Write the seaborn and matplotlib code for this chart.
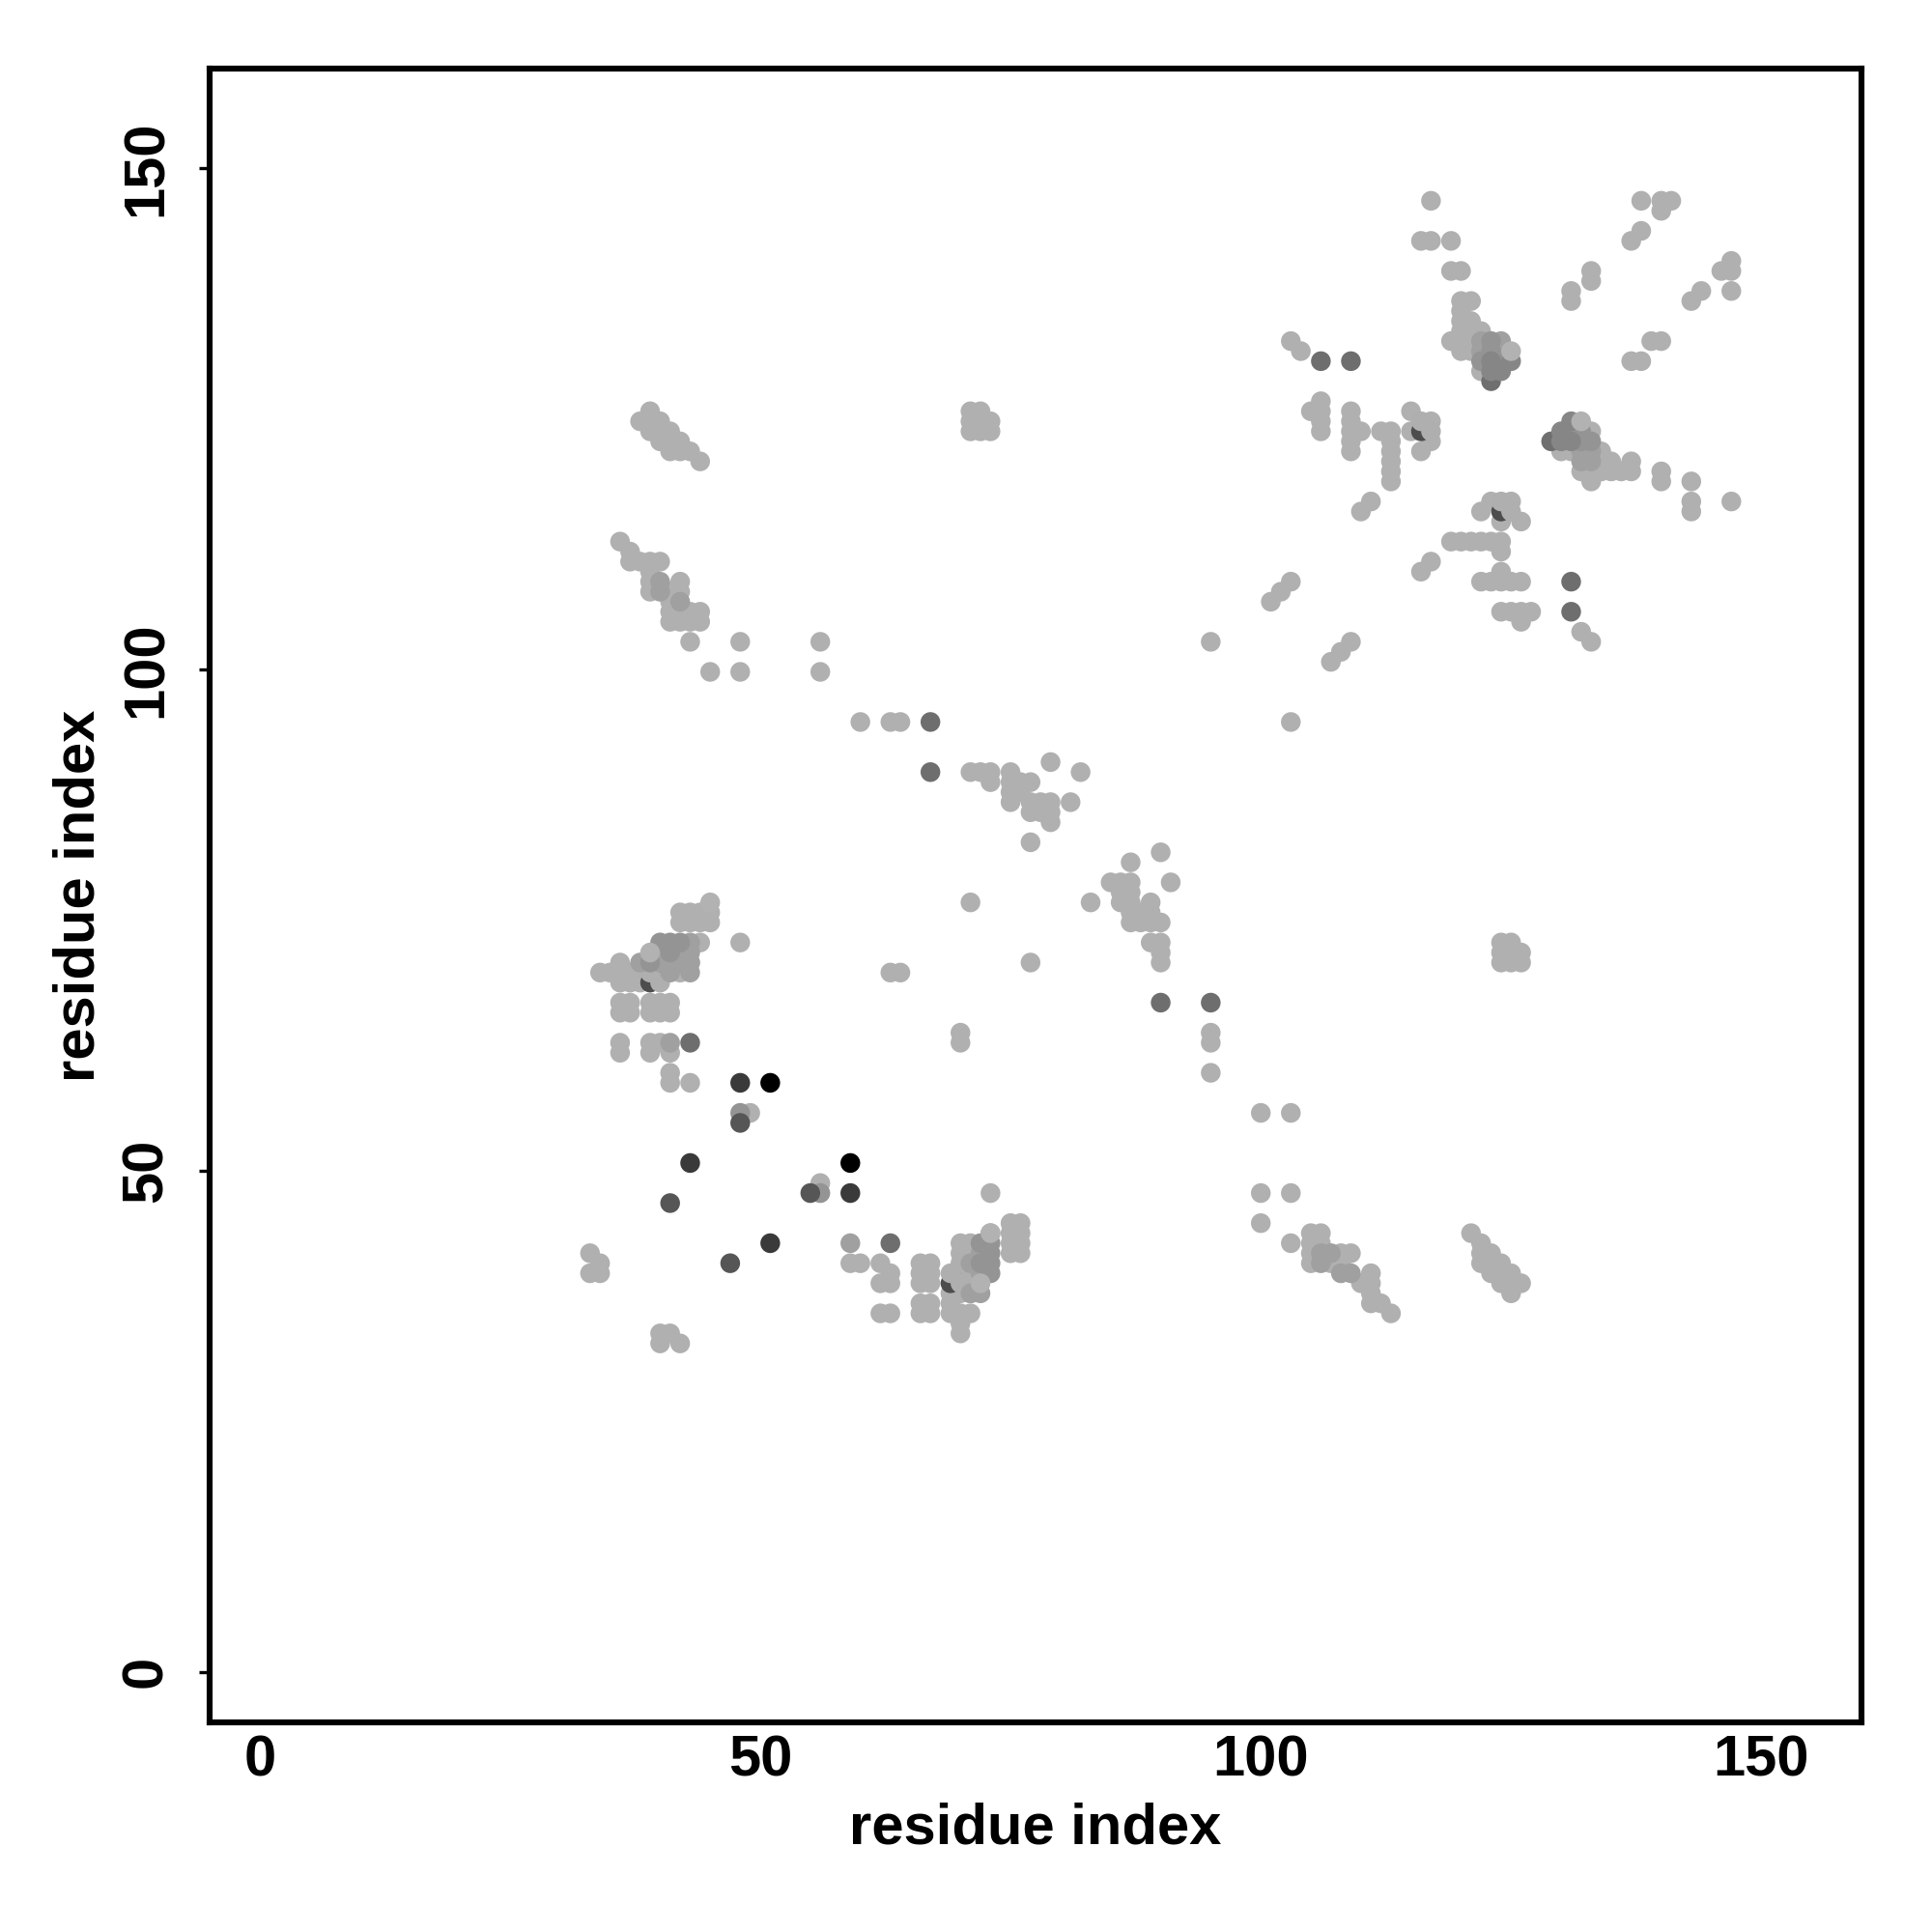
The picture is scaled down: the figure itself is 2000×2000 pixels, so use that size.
import matplotlib
matplotlib.use("Agg")
import matplotlib.pyplot as plt
from matplotlib.transforms import ScaledTranslation
import pandas as pd
import seaborn as sns

# (residue i, residue j) contacts, grouped by grey tone, in drawing order
light = [
    # lower-left cluster
    (42, 76), (43, 76), (44, 76), (45, 76), (42, 75), (43, 75), (44, 75), (45, 75),
    (48, 73), (44, 73), (42, 72), (40, 72), (42, 71), (43, 71), (36, 71), (42, 70),
    (34, 70), (35, 70), (36, 70), (37, 70), (38, 70),
    (36, 69), (37, 69), (38, 69),
    (36, 67), (37, 67), (39, 67), (40, 67), (41, 67), (36, 66), (37, 66), (39, 66), (40, 66), (41, 66),
    (36, 63), (39, 63), (40, 63), (36, 62), (39, 62), (41, 62), (41, 60), (41, 59), (43, 59),
    (49, 56),
    # bottom
    (33, 42), (34, 41), (33, 40), (34, 40), (40, 34), (41, 34), (40, 33), (42, 33),
    (56, 49), (73, 48), (59, 41), (60, 41), (62, 41), (63, 40), (62, 39), (63, 39),
    (66, 41), (67, 41), (66, 40), (67, 40), (66, 39), (67, 39), (66, 37), (67, 37), (66, 36), (67, 36),
    (62, 36), (63, 36), (69, 38), (69, 37), (69, 36), (70, 36), (71, 36), (70, 35), (70, 34),
    (70, 38), (71, 38), (70, 43), (71, 43), (70, 42), (71, 42),
    (71, 41), (71, 39), (75, 45), (76, 45), (75, 44), (76, 44), (75, 43), (76, 43), (75, 42), (76, 42),
    (103, 43), (105, 44), (106, 44), (105, 43), (106, 43), (105, 42), (108, 42), (109, 42),
    (105, 41), (107, 41), (108, 41), (110, 39), (111, 40), (111, 39), (111, 38), (111, 37), (112, 37), (113, 36),
    (121, 44), (122, 43), (122, 42), (123, 42), (122, 41), (123, 41), (124, 41), (123, 40), (124, 40),
    (125, 40), (124, 39), (125, 39), (126, 39), (125, 38),
    (100, 48), (103, 48), (100, 45), (100, 56), (103, 56),
    # top-left
    (39, 126), (38, 125), (39, 125), (40, 125), (39, 124), (40, 124), (41, 124), (40, 123), (41, 123), (42, 123),
    (41, 122), (42, 122), (43, 122), (44, 121),
    (36, 113), (37, 112), (37, 111), (38, 111), (39, 111), (40, 111), (39, 110), (39, 109), (42, 109),
    (39, 108), (41, 108), (42, 108), (41, 107), (41, 106), (42, 106), (43, 106), (44, 106),
    (41, 105), (42, 105), (43, 105), (44, 105), (43, 103), (48, 103), (56, 103), (45, 100), (48, 100), (56, 100),
    # centre block and middle
    (71, 126), (72, 126), (71, 125), (72, 125), (73, 125), (71, 124), (72, 124), (73, 124),
    (60, 95), (63, 95), (64, 95),
    (79, 91), (82, 90), (71, 90), (72, 90), (73, 90), (75, 90), (73, 89), (75, 89), (76, 89), (77, 89),
    (75, 88), (76, 88), (75, 87), (77, 87), (78, 87), (79, 87), (81, 87), (77, 86), (78, 86), (79, 86), (79, 85), (77, 83),
    (71, 77), (77, 71), (90, 82), (87, 81), (85, 79), (86, 79), (87, 79), (91, 79), (86, 78), (87, 78),
    (83, 77), (86, 77), (87, 77), (89, 77), (87, 76), (88, 76), (89, 76), (87, 75), (88, 75), (89, 75), (90, 75),
    (89, 73), (90, 73), (90, 72), (90, 71),
    (63, 70), (64, 70), (70, 64), (70, 63), (95, 64), (95, 63), (95, 60), (95, 103), (103, 95),
    (124, 73), (125, 73), (124, 72), (125, 72), (126, 72), (124, 71), (125, 71), (126, 71),
    # upper right
    (101, 107), (102, 108), (103, 109), (107, 101), (108, 102), (109, 103), (103, 133), (104, 132),
    (106, 127), (105, 126), (106, 126), (106, 125), (106, 124),
    (109, 126), (109, 125), (109, 124), (110, 124), (109, 123), (109, 122),
    (112, 124), (113, 124), (113, 123), (113, 122), (113, 121), (113, 120), (113, 119),
    (115, 126), (115, 124), (117, 125), (117, 123), (116, 122),
    (111, 117), (110, 116), (123, 117), (125, 117), (122, 116), (124, 115), (126, 115),
    (119, 113), (120, 113), (121, 113), (122, 113), (123, 113), (124, 113), (124, 112),
    (117, 111), (116, 110), (124, 110), (122, 109), (123, 109), (124, 109), (125, 109), (126, 109),
    (124, 106), (125, 106), (126, 106), (127, 106), (126, 105), (132, 104), (133, 103),
    (130, 122), (131, 122), (134, 122), (134, 121), (135, 121), (137, 121),
    (132, 120), (133, 120), (134, 120), (135, 120), (136, 120), (137, 120), (133, 119),
    (133, 124), (140, 120), (140, 119), (143, 119), (143, 117), (143, 116), (147, 117),
    (120, 137), (121, 137), (120, 136), (120, 135), (121, 135), (120, 134), (121, 134), (122, 134),
    (119, 133), (120, 133), (121, 133), (120, 132), (121, 132), (122, 130),
    (131, 138), (131, 137), (133, 140), (133, 139), (139, 133), (140, 133), (137, 131), (138, 131),
    (117, 147), (116, 143), (117, 143), (119, 143), (119, 140), (120, 140),
    (138, 147), (140, 147), (141, 147), (140, 146), (138, 144), (137, 143),
    (147, 141), (146, 140), (147, 140), (147, 138), (144, 138), (143, 137),
]

under_dark = [(39, 69), (40, 70), (69, 39), (70, 40), (116, 124), (124, 116)]

cover = [(40, 69), (39, 70), (69, 40), (70, 39), (71, 40), (70, 41),
         (116, 125), (117, 124), (124, 117), (125, 116)]

dark_under = [(123, 129), (129, 123)]

mid_pale = [
    (43, 73), (40, 71), (41, 71), (38, 71), (43, 70), (41, 70), (43, 72), (41, 63), (59, 43),
    (42, 72), (42, 71), (43, 71),
    (73, 44), (72, 42), (71, 41), (72, 40), (72, 38), (71, 38),
    (122, 133), (122, 132), (124, 133), (124, 132),
    (132, 122), (133, 122), (133, 121), (132, 121), (107, 42), (106, 41), (106, 42), (108, 40), (109, 40),
    (40, 109), (40, 108), (42, 107),
]

mid = [
    (40, 73), (41, 73), (42, 73), (41, 72), (39, 71), (56, 48), (48, 56),
    (72, 43), (73, 42), (72, 41), (73, 41), (73, 40), (73, 43),
    (123, 133), (123, 132), (122, 131), (124, 131),
    (132, 123), (132, 124), (133, 123), (131, 124),
]

mid_dark = [(125, 131), (124, 130), (123, 130), (123, 131),
            (131, 125), (130, 124), (130, 123), (131, 123)]

top_light = [(45, 77), (39, 72), (125, 132), (132, 125), (73, 44), (72, 39)]

dark_4 = [(106, 131), (109, 131), (67, 95), (67, 90), (90, 67), (95, 67),
          (131, 109), (131, 106), (43, 63), (63, 43)]
dark_3 = [(41, 47), (47, 41), (48, 55), (55, 48)]
dark_2 = [(48, 59), (43, 51), (59, 48), (51, 43)]
black = [(51, 59), (59, 51)]

x_ticks = [0, 50, 100, 150]
y_ticks = [0, 50, 100, 150]
x_label = "residue index"
y_label = "residue index"

groups = [
    ("#b0b0b0", light), ("#4d4d4d", under_dark), ("#afafaf", cover), ("#6f6f6f", dark_under),
    ("#a0a0a0", mid_pale), ("#949494", mid), ("#868686", mid_dark),
    ("#b2b2b2", top_light), ("#6e6e6e", dark_4), ("#565656", dark_3), ("#3a3a3a", dark_2),
    ("#000000", black),
]
rows = [(i, j, tone) for tone, pts in groups for i, j in pts]
df = pd.DataFrame(rows, columns=["i", "j", "tone"])

sns.set_theme(style="white")
plt.rcParams["font.family"] = ["Liberation Sans", "DejaVu Sans"]
plt.rcParams["font.weight"] = "bold"

fig = plt.figure(figsize=(10, 10), dpi=200)
ax = fig.add_axes([217 / 2000, 1 - 1783 / 2000, (1927 - 217) / 2000, (1783 - 71) / 2000])
sns.scatterplot(data=df, x="i", y="j", hue="tone", palette={t: t for t, _ in groups},
                s=54, linewidth=0, legend=False, ax=ax)
ax.set_xlim(-5, 160)
ax.set_ylim(-5.05, 159.95)
# the reference's dots sit a little below its tick grid
ax.collections[0].set_offset_transform(ax.transData + ScaledTranslation(0, -2.5 / 200, fig.dpi_scale_trans))
ax.set_xticks(x_ticks)
ax.set_yticks(y_ticks)
ax.tick_params(axis="x", length=0, labelsize=21.5, pad=4.6, labelcolor="black")
ax.tick_params(axis="y", length=4, width=1.2, labelsize=21.5, pad=9.5, left=True, color="black", labelcolor="black")
for lab in ax.get_yticklabels():
    lab.set_rotation(90)
    lab.set_va("center")
    lab.set_fontweight("bold")
for lab in ax.get_xticklabels():
    lab.set_fontweight("bold")
ax.set_xlabel(x_label, fontsize=21.5, fontweight="bold", labelpad=5.2, color="black")
ax.set_ylabel(y_label, fontsize=21.5, fontweight="bold", labelpad=5.5, color="black")
for s in ax.spines.values():
    s.set_visible(True)
    s.set_color("black")
    s.set_linewidth(2.2)
fig.savefig("out.png", dpi=200, facecolor="white")
